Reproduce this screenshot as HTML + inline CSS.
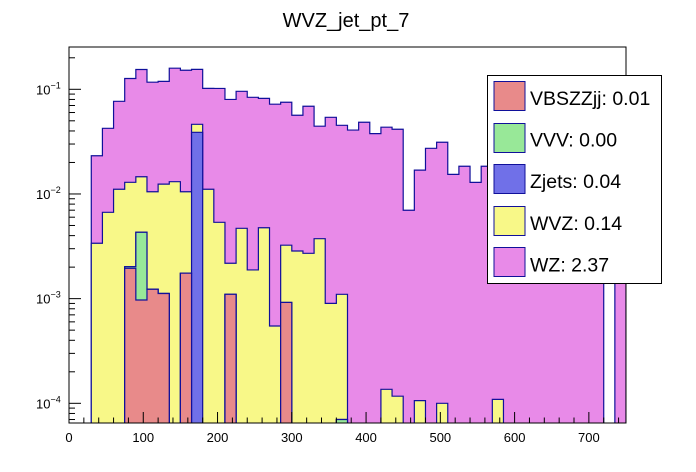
<!DOCTYPE html>
<html><head><meta charset="utf-8"><style>
body{margin:0;background:#fff;}
svg{display:block;font-family:"Liberation Sans",Arial,sans-serif;}
</style></head><body>
<svg id="c" width="696" height="472" viewBox="0 0 696 472">
<defs>
<clipPath id="frameClip"><rect x="69" y="47" width="557" height="376"/></clipPath>
</defs>
<text x="346" y="27" font-size="20" text-anchor="middle">WVZ_jet_pt_7</text>
<g id="plot" clip-path="url(#frameClip)"></g>
<rect x="69" y="47" width="557" height="376" fill="none" stroke="#000" stroke-width="1"/>
<g id="axes"></g>
<g>
<rect x="487.5" y="75.5" width="174" height="208" fill="#fff" stroke="#000"/>
<g><rect x="494" y="81.5" width="31" height="29" fill="#e88a8a" stroke="#10109a"/><text x="530" y="105" font-size="19.5">VBSZZjj: 0.01</text></g>
<g><rect x="494" y="123.5" width="31" height="29" fill="#98e898" stroke="#10109a"/><text x="530" y="146.7" font-size="19.5">VVV: 0.00</text></g>
<g><rect x="494" y="164.5" width="31" height="29" fill="#7070e8" stroke="#10109a"/><text x="530" y="188" font-size="19.5">Zjets: 0.04</text></g>
<g><rect x="494" y="206.5" width="31" height="29" fill="#f8f888" stroke="#10109a"/><text x="530" y="230" font-size="19.5">WVZ: 0.14</text></g>
<g><rect x="494" y="247.5" width="31" height="29" fill="#e88ae8" stroke="#10109a"/><text x="530" y="271.7" font-size="19.5">WZ: 2.37</text></g>
</g>
</svg>
<script>
const binEdges0 = 0, binWidth = 15, nBins = 50;
const vbs = [0,0,0,0,0,0.00195,0.00097,0.00123,0.00112,0,0.00175,0,0,0,0.0011,0,0,0,0,0.00092,0,0,0,0,0,0,0,0,0,0,0,0,0,0,0,0,0,0,0,0,0,0,0,0,0,0,0,0,0,0];
const vvv = [0,0,0,0,0,0.00007,0.00334,0,0,0,0,0,0,0,0,0,0,0,0,0,0,0,0,0,0.00007,0,0,0,0,0,0,0,0,0,0,0,0,0,0,0,0,0,0,0,0,0,0,0,0,0];
const zjets = [0,0,0,0,0,0,0,0,0,0,0,0.0388,0,0,0,0,0,0,0,0,0,0,0,0,0,0,0,0,0,0,0,0,0,0,0,0,0,0,0,0,0,0,0,0,0,0,0,0,0,0];
const wvz = [0,0,0.00338,0.00668,0.0111,0.0109,0.0103,0.00927,0.0113,0.0131,0.00875,0.0075,0.0111,0.00536,0.00108,0.0047,0.00188,0.00476,0.000548,0.00232,0.00285,0.00271,0.00374,0.000901,0.00103,0,0,0,0.000136,0.000117,0,0.000106,0,0.0001,0,0,0,0,0.000109,0,0,0,0,0,0,0,0,0,0,0];
const wz = [0,0,0.0198,0.0357,0.0657,0.114,0.140,0.1065,0.1066,0.146,0.1415,0.1087,0.0909,0.0966,0.0778,0.091,0.082,0.0772,0.0715,0.072,0.0537,0.0662,0.0407,0.0531,0.0442,0.0408,0.0484,0.0377,0.0433,0.0414,0.00699,0.0168,0.0273,0.0311,0.0154,0.0184,0.0129,0.0184,0.0149,0.012,0.016,0.011,0.013,0.01,0.012,0.009,0.01,0.008,0,0.01];
const xTicks = [0,100,200,300,400,500,600,700];
const yDecades = [-4,-3,-2,-1];

const X0=69, X1=626, XMIN=0, XMAX=750;
const YB=423, YREF=89.3, DEC=104.67;
function xs(v){return X0+(v-XMIN)*(X1-X0)/(XMAX-XMIN);}
function ys(v){ if(v<=0) return YB+5; return YREF-(Math.log10(v)+1)*DEC; }

const NS='http://www.w3.org/2000/svg';
const plot=document.getElementById('plot');
const axes=document.getElementById('axes');
function mk(tag,attrs,parent){const e=document.createElementNS(NS,tag);for(const k in attrs)e.setAttribute(k,attrs[k]);parent.appendChild(e);return e;}

const layers=[
 {name:'wz',col:'#e88ae8',arr:[vbs,vvv,zjets,wvz,wz]},
 {name:'wvz',col:'#f8f888',arr:[vbs,vvv,zjets,wvz]},
 {name:'zjets',col:'#7070e8',arr:[vbs,vvv,zjets]},
 {name:'vvv',col:'#98e898',arr:[vbs,vvv]},
 {name:'vbszzjj',col:'#e88a8a',arr:[vbs]}
];
layers.forEach(L=>{
  const cum=[];
  for(let i=0;i<nBins;i++){let s=0;L.arr.forEach(a=>s+=a[i]);cum.push(s);}
  let d='M'+xs(binEdges0)+','+(YB+5);
  for(let i=0;i<nBins;i++){
    const xa=xs(binEdges0+i*binWidth), xb=xs(binEdges0+(i+1)*binWidth), y=ys(cum[i]);
    d+=' L'+xa+','+y+' L'+xb+','+y;
  }
  d+=' L'+xs(binEdges0+nBins*binWidth)+','+(YB+5)+' Z';
  const p=mk('path',{d:d,fill:L.col,stroke:'#10109a','stroke-width':1.2},plot);
  
  
});

for(let v=0; v<=750; v+=20){
  const major = v%100===0;
  mk('line',{x1:xs(v),x2:xs(v),y1:YB,y2:YB-(major?11:5.5),stroke:'#000','stroke-width':1},axes);
}
xTicks.forEach(v=>{
  const t=mk('text',{x:xs(v),y:442,'font-size':13,'text-anchor':'middle'},axes);
  t.textContent=String(v);
  
  
});
for(let e=-5;e<=0;e++){
  for(let m=1;m<=9;m++){
    const v=m*Math.pow(10,e), y=ys(v);
    if(y<47||y>YB) continue;
    mk('line',{x1:X0,x2:X0+(m===1?12:6),y1:y,y2:y,stroke:'#000','stroke-width':1},axes);
  }
}
yDecades.forEach(e=>{
  const y=ys(Math.pow(10,e));
  const t=mk('text',{x:36,y:y+5,'font-size':13},axes);
  
  
  const a=document.createElementNS(NS,'tspan');a.textContent='10';t.appendChild(a);
  const b=document.createElementNS(NS,'tspan');b.setAttribute('dy','-6');b.setAttribute('font-size','9');b.textContent=String(e).replace('-','\u2212');t.appendChild(b);
});
</script>
</body></html>
